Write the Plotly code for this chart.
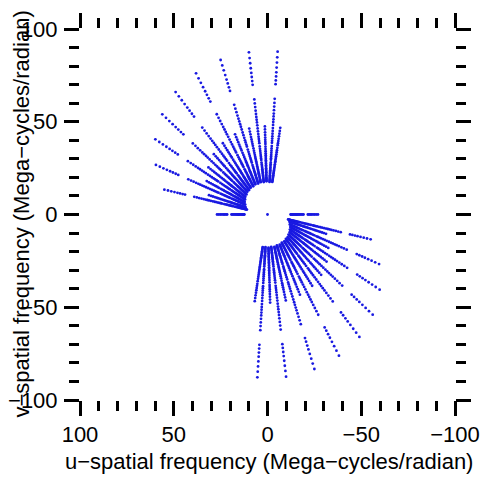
import plotly.graph_objects as go

# uv position (Mega-cycles/radian) of the longest baseline of the first
# antenna group at the top channel, one entry per time sample
grp1_u = [-5.4, 9.9, 25.0, 38.1, 49.0, 56.1, 59.8, 59.5, 55.0]
grp1_v = [87.8, 87.4, 83.3, 76.1, 66.0, 54.0, 40.5, 26.7, 13.4]
# baseline lengths of that group relative to its longest one
grp1_scale = [1.0, 0.71, 0.55, 0.42, 0.32, 0.25]

# same for the second antenna group
grp2_u = [-6.8, 1.4, 9.75, 17.3, 23.8, 28.6, 31.5, 32.4, 31.2]
grp2_v = [46.7, 47.5, 46.3, 43.2, 38.4, 32.5, 25.4, 18.0, 10.4]
grp2_scale = [1.0, 0.77, 0.6, 0.47]

# east-west baselines seen at transit (top channel uv)
extra_u = [26.9, 19.2, 15.4]
extra_v = [0.0, 0.0, 0.0]

# channel frequencies relative to the top channel
chan_scale = [0.800, 0.823, 0.848, 0.873, 0.902, 0.933, 0.965, 1.000]

# tick labels
major_ticks = [100, 50, 0, -50, -100]
major_text = ["100", "50", "0", "\u221250", "\u2212100"]
minor_ticks = [t for t in range(-90, 100, 10) if t % 50 != 0]

tracks = [(du * s, dv * s) for s in grp1_scale for du, dv in zip(grp1_u, grp1_v)]
tracks += [(du * s, dv * s) for s in grp2_scale for du, dv in zip(grp2_u, grp2_v)]
tracks += list(zip(extra_u, extra_v))

u_pts, v_pts = [0.0], [0.0]
for tu, tv in tracks:
    for c in chan_scale:
        # each sample and its Hermitian conjugate
        u_pts += [tu * c, -tu * c]
        v_pts += [tv * c, -tv * c]

fig = go.Figure(go.Scatter(
    x=u_pts, y=v_pts, mode="markers",
    marker=dict(size=2.8, color="rgb(25,25,225)", line=dict(width=0)),
    hoverinfo="skip", showlegend=False,
))

font = dict(family="Liberation Sans, Arial, sans-serif", size=22, color="black")
axis_common = dict(
    tickmode="array", tickvals=major_ticks, ticktext=major_text,
    ticks="outside", ticklen=15, tickwidth=2.5, tickcolor="black",
    minor=dict(tickmode="array", tickvals=minor_ticks, ticks="outside",
               ticklen=10, tickwidth=2.5, tickcolor="black", showgrid=False),
    mirror="ticks", showline=False, showgrid=False, zeroline=False,
    tickfont=font, automargin=False,
)

fig.update_layout(
    width=487, height=478,
    margin=dict(l=80, r=32, t=29, b=78),
    paper_bgcolor="white", plot_bgcolor="white",
    xaxis=dict(range=[100, -100], **axis_common),
    yaxis=dict(range=[-100, 100], ticklabelstandoff=2, **axis_common),
    annotations=[
        dict(text="u\u2212spatial frequency (Mega\u2212cycles/radian)",
             xref="paper", yref="paper", x=(269 - 80) / 375, y=(400 - 461) / 371,
             xanchor="center", yanchor="middle", showarrow=False, font=font),
        dict(text="v\u2212spatial frequency (Mega\u2212cycles/radian)",
             xref="paper", yref="paper", x=(21 - 80) / 375, y=0.5,
             xanchor="center", yanchor="middle", textangle=-90,
             showarrow=False, font=font),
    ],
)

fig.write_html("out.html")
